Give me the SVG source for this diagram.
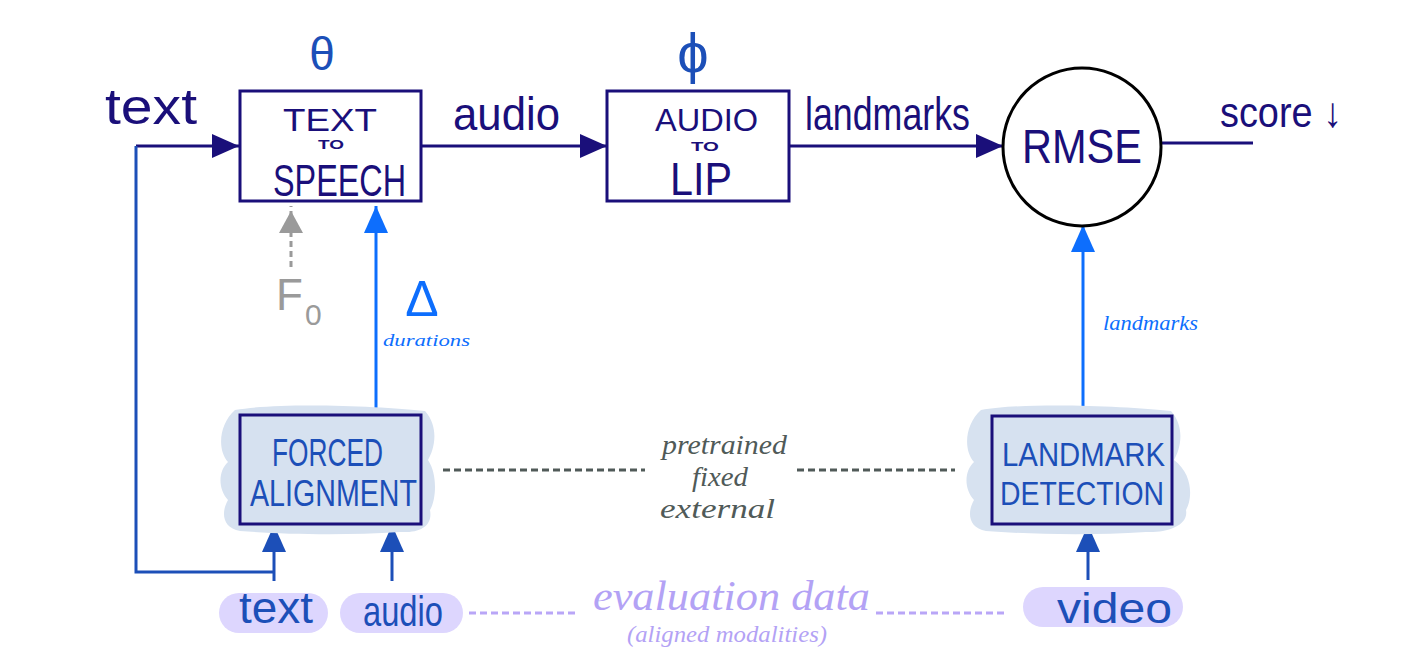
<svg xmlns="http://www.w3.org/2000/svg" width="1420" height="669" viewBox="0 0 1420 669">
<style>
.hand{font-family:"Liberation Sans","DejaVu Sans",sans-serif;}
.script{font-family:"Liberation Serif","DejaVu Serif",serif;font-style:italic;}
.navy{fill:#1a0f7a;}
.mid{fill:#1c4fb8;}
.bright{fill:#0d6efd;}
.box{fill:#ffffff;stroke:#1a0f7a;stroke-width:3;}
.boxb{fill:#d6e1f0;stroke:#1a0f7a;stroke-width:3;}
.cloud{fill:#d7e2f0;}
.pill{fill:#ddd6fe;}
.ln{fill:none;stroke-width:3;}
</style>
<defs>
<marker id="ahNavy" markerUnits="userSpaceOnUse" markerWidth="28" markerHeight="26" refX="27" refY="12" orient="auto"><path d="M0,0 L27,12 L0,24 Z" fill="#1a0f7a"/></marker>
<marker id="ahBright" markerUnits="userSpaceOnUse" markerWidth="28" markerHeight="26" refX="27" refY="12" orient="auto"><path d="M0,0 L27,12 L0,24 Z" fill="#0d6efd"/></marker>
<marker id="ahMid" markerUnits="userSpaceOnUse" markerWidth="28" markerHeight="26" refX="27" refY="12" orient="auto"><path d="M0,0 L27,12 L0,24 Z" fill="#1c4fb8"/></marker>
<marker id="ahGray" markerUnits="userSpaceOnUse" markerWidth="28" markerHeight="26" refX="27" refY="12" orient="auto"><path d="M0,0 L22,12 L0,24 Z" fill="#9a9a9a"/></marker>
</defs>

<g id="connectors">
  <line class="ln" x1="136" y1="146" x2="239" y2="146" stroke="#1a0f7a" marker-end="url(#ahNavy)"/>
  <polyline class="ln" points="136,146 136,572 274,572" stroke="#1c4fb8"/>
  <line class="ln" x1="421" y1="146" x2="607" y2="146" stroke="#1a0f7a" marker-end="url(#ahNavy)"/>
  <line class="ln" x1="789" y1="146" x2="1003" y2="146" stroke="#1a0f7a" marker-end="url(#ahNavy)"/>
  <line class="ln" x1="1161" y1="143" x2="1253" y2="143" stroke="#1a0f7a"/>
  <line class="ln" x1="291" y1="267" x2="291" y2="206" stroke="#9a9a9a" stroke-dasharray="6,4" marker-end="url(#ahGray)"/>
  <line class="ln" x1="376" y1="415" x2="376" y2="206" stroke="#0d6efd" marker-end="url(#ahBright)"/>
  <line class="ln" x1="1083" y1="416" x2="1083" y2="225" stroke="#0d6efd" marker-end="url(#ahBright)"/>
  <line class="ln" x1="274" y1="581" x2="274" y2="525" stroke="#1c4fb8" marker-end="url(#ahMid)"/>
  <line class="ln" x1="392" y1="581" x2="392" y2="525" stroke="#1c4fb8" marker-end="url(#ahMid)"/>
  <line class="ln" x1="1088" y1="580" x2="1088" y2="525" stroke="#1c4fb8" marker-end="url(#ahMid)"/>
  <line x1="443" y1="470" x2="645" y2="470" stroke="#505a58" stroke-width="3" stroke-dasharray="7,4"/>
  <line x1="797" y1="470" x2="955" y2="470" stroke="#505a58" stroke-width="3" stroke-dasharray="7,4"/>
  <line x1="469" y1="613" x2="575" y2="613" stroke="#b9a6f7" stroke-width="3" stroke-dasharray="7,4"/>
  <line x1="876" y1="613" x2="1008" y2="613" stroke="#b9a6f7" stroke-width="3" stroke-dasharray="7,4"/>
</g>

<g id="input-text">
  <text class="hand navy" x="105" y="124" font-size="50" textLength="92" lengthAdjust="spacingAndGlyphs">text</text>
</g>

<g id="tts">
  <rect class="box" x="240" y="91" width="181" height="110"/>
  <text class="hand navy" x="283" y="131" font-size="32" textLength="94" lengthAdjust="spacingAndGlyphs">TEXT</text>
  <text class="hand navy" x="318" y="149" font-size="12" font-weight="bold" textLength="26" lengthAdjust="spacingAndGlyphs">TO</text>
  <text class="hand navy" x="273" y="196" font-size="44" textLength="133" lengthAdjust="spacingAndGlyphs">SPEECH</text>
  <text class="hand mid" x="322" y="70" font-size="46" text-anchor="middle">θ</text>
</g>

<g id="audio-label">
  <text class="hand navy" x="453" y="130" font-size="46" textLength="107" lengthAdjust="spacingAndGlyphs">audio</text>
</g>

<g id="a2l">
  <rect class="box" x="607" y="91" width="182" height="110"/>
  <text class="hand navy" x="655" y="131" font-size="32" textLength="103" lengthAdjust="spacingAndGlyphs">AUDIO</text>
  <text class="hand navy" x="691" y="151" font-size="13" font-weight="bold" textLength="28" lengthAdjust="spacingAndGlyphs">TO</text>
  <text class="hand navy" x="670" y="195" font-size="46" textLength="62" lengthAdjust="spacingAndGlyphs">LIP</text>
  <text class="hand mid" x="693" y="72" font-size="56" text-anchor="middle">ϕ</text>
</g>

<g id="landmarks-label">
  <text class="hand navy" x="805" y="130" font-size="46" textLength="165" lengthAdjust="spacingAndGlyphs">landmarks</text>
</g>

<g id="rmse">
  <circle cx="1082" cy="147" r="79" fill="#ffffff" stroke="#000000" stroke-width="3"/>
  <text class="hand navy" x="1022" y="163" font-size="48" textLength="120" lengthAdjust="spacingAndGlyphs">RMSE</text>
</g>

<g id="score">
  <text class="hand navy" x="1220" y="127" font-size="42" textLength="122" lengthAdjust="spacingAndGlyphs">score ↓</text>
</g>

<g id="f0">
  <text class="hand" x="276" y="310" font-size="44" fill="#9a9a9a">F</text>
  <text class="hand" x="305" y="325" font-size="30" fill="#9a9a9a">0</text>
</g>

<g id="durations">
  <text class="hand bright" x="422" y="316" font-size="50" text-anchor="middle">Δ</text>
  <text class="script bright" x="383" y="346" font-size="17" textLength="87" lengthAdjust="spacingAndGlyphs">durations</text>
</g>

<g id="forced-alignment">
  <path class="cloud" d="M235 410 C280 402 380 406 425 411 C440 428 434 450 428 460 C438 475 436 500 430 510 C433 526 420 533 400 532 C340 536 280 534 240 531 C222 528 221 512 228 500 C217 488 219 470 228 462 C217 450 219 424 235 410 Z"/>
  <rect class="boxb" x="240" y="415" width="181" height="109"/>
  <text class="hand mid" x="272" y="466" font-size="38" textLength="111" lengthAdjust="spacingAndGlyphs">FORCED</text>
  <text class="hand mid" x="250" y="506" font-size="36" textLength="167" lengthAdjust="spacingAndGlyphs">ALIGNMENT</text>
</g>

<g id="pretrained">
  <text class="script" x="662" y="454" font-size="28" fill="#505a58" textLength="125" lengthAdjust="spacingAndGlyphs">pretrained</text>
  <text class="script" x="692" y="486" font-size="28" fill="#505a58" textLength="56" lengthAdjust="spacingAndGlyphs">fixed</text>
  <text class="script" x="660" y="518" font-size="28" fill="#505a58" textLength="115" lengthAdjust="spacingAndGlyphs">external</text>
</g>

<g id="landmark-detection">
  <path class="cloud" transform="translate(746,0)" d="M235 410 C280 402 380 406 425 411 C440 428 434 450 428 460 C448 475 446 500 440 510 C443 526 420 533 400 532 C340 536 280 534 240 531 C222 528 221 512 228 500 C217 488 219 470 228 462 C217 450 219 424 235 410 Z"/>
  <rect class="boxb" x="992" y="416" width="180" height="108"/>
  <text class="hand mid" x="1002" y="466" font-size="34" textLength="163" lengthAdjust="spacingAndGlyphs">LANDMARK</text>
  <text class="hand mid" x="1000" y="505" font-size="34" textLength="164" lengthAdjust="spacingAndGlyphs">DETECTION</text>
  <text class="script bright" x="1103" y="330" font-size="20" textLength="95" lengthAdjust="spacingAndGlyphs">landmarks</text>
</g>

<g id="data-text">
  <rect class="pill" x="219" y="593" width="109" height="40" rx="20"/>
  <text class="hand mid" x="239" y="623" font-size="44" textLength="74" lengthAdjust="spacingAndGlyphs">text</text>
</g>
<g id="data-audio">
  <rect class="pill" x="340" y="593" width="123" height="40" rx="20"/>
  <text class="hand mid" x="363" y="626" font-size="42" textLength="80" lengthAdjust="spacingAndGlyphs">audio</text>
</g>
<g id="data-video">
  <rect class="pill" x="1023" y="587" width="160" height="40" rx="20"/>
  <text class="hand mid" x="1057" y="623" font-size="42" textLength="115" lengthAdjust="spacingAndGlyphs">video</text>
</g>

<g id="evaluation-data">
  <text class="script" x="593" y="610" font-size="42" fill="#b3a2f5" textLength="277" lengthAdjust="spacingAndGlyphs">evaluation data</text>
  <text class="script" x="627" y="642" font-size="24" fill="#b3a2f5" textLength="200" lengthAdjust="spacingAndGlyphs">(aligned modalities)</text>
</g>
</svg>
